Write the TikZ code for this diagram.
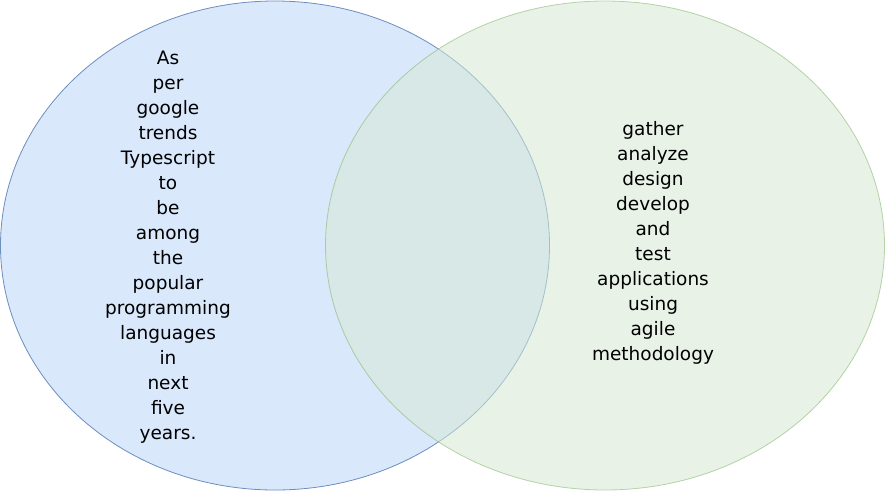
\documentclass[tikz,border=0pt]{standalone}
\usepackage{fontspec}
\setmainfont{DejaVu Sans}
\usetikzlibrary{shapes.geometric}
\definecolor{bluefill}{HTML}{DAE8FC}
\definecolor{bluedraw}{HTML}{6C8EBF}
\definecolor{greenfill}{HTML}{D5E8D4}
\definecolor{greendraw}{HTML}{82B366}
\tikzset{
  venn/.style={ellipse, line width=0.8pt, inner sep=0pt},
  lbl/.style={align=center, font=\fontsize{18.5}{25}\selectfont, text=black, inner sep=0pt}
}
\begin{document}
\begin{tikzpicture}[x=1pt,y=-1pt]
\useasboundingbox (0,0) rectangle (886,491);
\node[venn, fill=bluefill, draw=bluedraw, minimum width=549pt, minimum height=489pt] (left) at (275,245.5) {};
\node[venn, fill=greenfill, draw=greendraw, opacity=0.55, minimum width=559pt, minimum height=489pt] (right) at (605,245.5) {};
\node[lbl] (ltext) at (168,247) {As\\per\\google\\trends\\Typescript\\to\\be\\among\\the\\popular\\programming\\languages\\in\\next\\five\\years.};
\node[lbl] (rtext) at (653,243) {gather\\analyze\\design\\develop\\and\\test\\applications\\using\\agile\\methodology};
\end{tikzpicture}
\end{document}
